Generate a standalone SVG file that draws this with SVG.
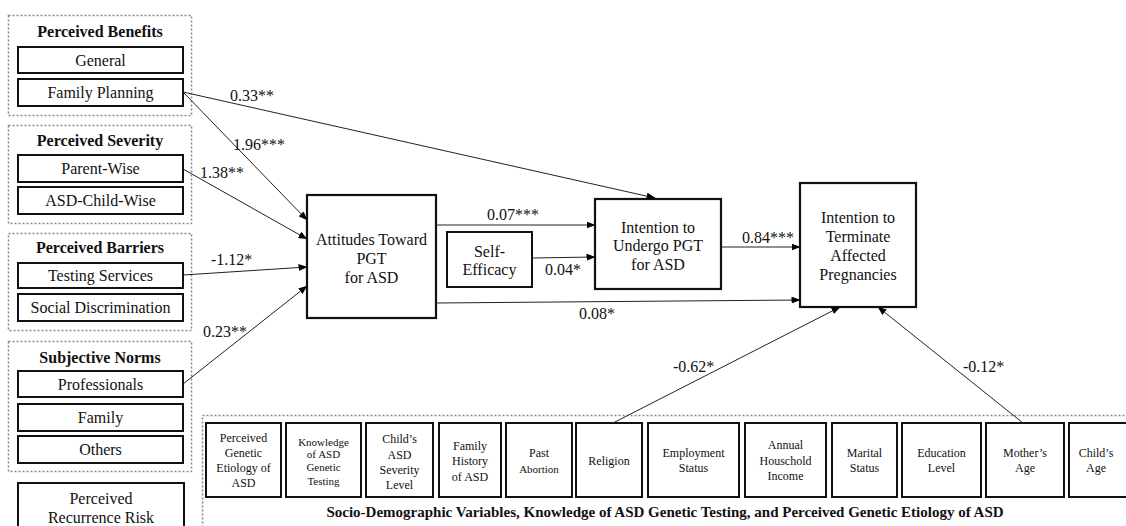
<svg xmlns="http://www.w3.org/2000/svg" width="1126" height="526" viewBox="0 0 1126 526">
<defs>
<marker id="ah" markerWidth="9" markerHeight="7" refX="8.5" refY="3.5" orient="auto" markerUnits="userSpaceOnUse">
<path d="M0,0 L9,3.5 L0,7 Z" fill="#000"/>
</marker>
<style>
text{font-family:"Liberation Serif","Times New Roman",serif;fill:#111;text-anchor:middle}
.t{font-size:16px}
.b{font-size:16px;font-weight:bold}
.s{font-size:12px}
.xs{font-size:11px}
.lb{font-size:16px;text-anchor:start}
.grp{fill:none;stroke:#8a8a8a;stroke-width:1.6;stroke-dasharray:2 2}
.box{fill:#fff;stroke:#111;stroke-width:2}
.bb{fill:#fff;stroke:#111;stroke-width:2.2}
.c{fill:none;stroke:#222;stroke-width:1;marker-end:url(#ah)}
</style>
</defs>
<rect width="1126" height="526" fill="#fff"/>

<g id="perceived-benefits">
<rect class="grp" x="8.5" y="15.5" width="183" height="100"/>
<text class="b" x="100" y="37">Perceived Benefits</text>
<rect class="box" x="18" y="47" width="165" height="26"/>
<text class="t" x="100.5" y="65.5">General</text>
<rect class="box" x="18" y="79" width="165" height="27"/>
<text class="t" x="100.5" y="98">Family Planning</text>
</g>

<g id="perceived-severity">
<rect class="grp" x="8.5" y="125.5" width="183" height="98"/>
<text class="b" x="100" y="146">Perceived Severity</text>
<rect class="box" x="18" y="155" width="165" height="27"/>
<text class="t" x="100.5" y="174">Parent-Wise</text>
<rect class="box" x="18" y="187" width="165" height="27"/>
<text class="t" x="100.5" y="206">ASD-Child-Wise</text>
</g>

<g id="perceived-barriers">
<rect class="grp" x="8.5" y="233.5" width="183" height="97"/>
<text class="b" x="100" y="253">Perceived Barriers</text>
<rect class="box" x="18" y="263" width="165" height="25"/>
<text class="t" x="100.5" y="281">Testing Services</text>
<rect class="box" x="18" y="294" width="165" height="27"/>
<text class="t" x="100.5" y="313">Social Discrimination</text>
</g>

<g id="subjective-norms">
<rect class="grp" x="8.5" y="341.5" width="183" height="130"/>
<text class="b" x="100" y="363">Subjective Norms</text>
<rect class="box" x="18" y="371" width="165" height="26"/>
<text class="t" x="100.5" y="390">Professionals</text>
<rect class="box" x="18" y="404" width="165" height="27"/>
<text class="t" x="100.5" y="423">Family</text>
<rect class="box" x="18" y="436" width="165" height="27"/>
<text class="t" x="100.5" y="455">Others</text>
</g>

<g id="perceived-recurrence-risk">
<rect class="box" x="18" y="483" width="166" height="60"/>
<text class="t" x="101" y="503.5">Perceived</text>
<text class="t" x="101" y="522.5">Recurrence Risk</text>
</g>

<g id="attitudes">
<rect class="bb" x="307" y="195" width="129" height="123"/>
<text class="t" x="371.5" y="244.5">Attitudes Toward</text>
<text class="t" x="371.5" y="263.5">PGT</text>
<text class="t" x="371.5" y="282.5">for ASD</text>
</g>

<g id="self-efficacy">
<rect class="box" x="447" y="232" width="85" height="55"/>
<text class="t" x="489.5" y="256.5">Self-</text>
<text class="t" x="489.5" y="275">Efficacy</text>
</g>

<g id="intention-undergo">
<rect class="bb" x="595" y="199" width="126" height="90"/>
<text class="t" x="658" y="232.5">Intention to</text>
<text class="t" x="658" y="251">Undergo PGT</text>
<text class="t" x="658" y="269.5">for ASD</text>
</g>

<g id="intention-terminate">
<rect class="bb" x="800" y="183" width="116" height="124"/>
<text class="t" x="858" y="222.5">Intention to</text>
<text class="t" x="858" y="241.5">Terminate</text>
<text class="t" x="858" y="261">Affected</text>
<text class="t" x="858" y="279.5">Pregnancies</text>
</g>

<g id="socio-demographic">
<rect class="grp" x="202.5" y="415.5" width="930" height="120"/>
<g id="sd-genetic-etiology">
<rect class="box" x="206" y="423" width="75" height="74"/>
<text class="s" x="243.5" y="442">Perceived</text>
<text class="s" x="243.5" y="457">Genetic</text>
<text class="s" x="243.5" y="472">Etiology of</text>
<text class="s" x="243.5" y="487">ASD</text>
</g>
<g id="sd-knowledge">
<rect class="box" x="286" y="423" width="75" height="74"/>
<text class="xs" x="323.5" y="446">Knowledge</text>
<text class="xs" x="323.5" y="458">of ASD</text>
<text class="xs" x="323.5" y="471">Genetic</text>
<text class="xs" x="323.5" y="485">Testing</text>
</g>
<g id="sd-severity">
<rect class="box" x="366" y="423" width="67" height="74"/>
<text class="s" x="399.5" y="443">Child’s</text>
<text class="s" x="399.5" y="458.5">ASD</text>
<text class="s" x="399.5" y="474">Severity</text>
<text class="s" x="399.5" y="489">Level</text>
</g>
<g id="sd-family-history">
<rect class="box" x="439" y="423" width="62" height="74"/>
<text class="s" x="470" y="449.5">Family</text>
<text class="s" x="470" y="465">History</text>
<text class="s" x="470" y="480.5">of ASD</text>
</g>
<g id="sd-past-abortion">
<rect class="box" x="506" y="423" width="66" height="74"/>
<text class="s" x="539" y="457">Past</text>
<text class="xs" x="539" y="473">Abortion</text>
</g>
<g id="sd-religion">
<rect class="box" x="576" y="423" width="66" height="74"/>
<text class="s" x="609" y="465">Religion</text>
</g>
<g id="sd-employment">
<rect class="box" x="648" y="423" width="91" height="74"/>
<text class="s" x="693.5" y="457">Employment</text>
<text class="s" x="693.5" y="472">Status</text>
</g>
<g id="sd-income">
<rect class="box" x="745" y="423" width="81" height="74"/>
<text class="s" x="785.5" y="449">Annual</text>
<text class="s" x="785.5" y="465">Houschold</text>
<text class="s" x="785.5" y="480">Income</text>
</g>
<g id="sd-marital">
<rect class="box" x="832" y="423" width="65" height="74"/>
<text class="s" x="864.5" y="457">Marital</text>
<text class="s" x="864.5" y="472">Status</text>
</g>
<g id="sd-education">
<rect class="box" x="902" y="423" width="79" height="74"/>
<text class="s" x="941.5" y="457">Education</text>
<text class="s" x="941.5" y="472">Level</text>
</g>
<g id="sd-mother-age">
<rect class="box" x="986" y="423" width="78" height="74"/>
<text class="s" x="1025" y="457">Mother’s</text>
<text class="s" x="1025" y="472">Age</text>
</g>
<g id="sd-child-age">
<rect class="box" x="1069" y="423" width="70" height="74"/>
<text class="s" x="1096" y="457">Child’s</text>
<text class="s" x="1096" y="472">Age</text>
</g>
<text style="font-size:15px;font-weight:bold" x="665" y="517">Socio-Demographic Variables, Knowledge of ASD Genetic Testing, and Perceived Genetic Etiology of ASD</text>
</g>

<g id="connectors">
<line class="c" x1="183" y1="92" x2="655" y2="198"/>
<line class="c" x1="183" y1="92" x2="307" y2="220"/>
<line class="c" x1="183" y1="169" x2="307" y2="239"/>
<line class="c" x1="183" y1="275" x2="307" y2="267"/>
<line class="c" x1="183" y1="384" x2="307" y2="286"/>
<line class="c" x1="436" y1="225" x2="595" y2="225"/>
<line class="c" x1="532" y1="258" x2="595" y2="257"/>
<line class="c" x1="436" y1="303" x2="800" y2="300"/>
<line class="c" x1="721" y1="247" x2="800" y2="247"/>
<line class="c" x1="613" y1="423" x2="840" y2="307"/>
<line class="c" x1="1023" y1="423" x2="878" y2="307"/>
<text class="lb" x="230" y="101">0.33**</text>
<text class="lb" x="233" y="150">1.96***</text>
<text class="lb" x="200" y="178">1.38**</text>
<text class="lb" x="211" y="265">-1.12*</text>
<text class="lb" x="203" y="337">0.23**</text>
<text class="lb" x="487" y="220">0.07***</text>
<text class="lb" x="545" y="275">0.04*</text>
<text class="lb" x="579" y="319">0.08*</text>
<text class="lb" x="742" y="243">0.84***</text>
<text class="lb" x="673" y="372">-0.62*</text>
<text class="lb" x="963" y="372">-0.12*</text>
</g>
</svg>
